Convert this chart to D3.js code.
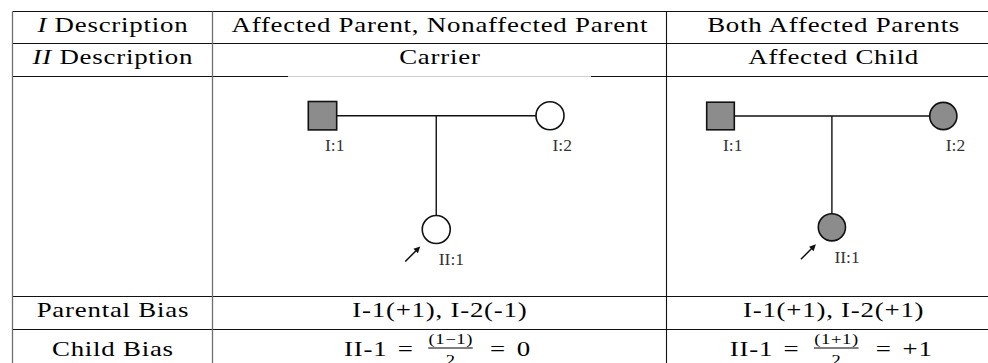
<!DOCTYPE html>
<html><head><meta charset="utf-8">
<script src="https://cdn.jsdelivr.net/npm/d3@7"></script>
<style>html,body{margin:0;padding:0;background:#fff;overflow:hidden}</style>
</head><body><svg id="c" width="988" height="363"></svg>
<script>
// ---------- data ----------
const rowHeaderNumerals = ["I", "II", "", "", ""];
const rowHeaderTexts = [" Description", " Description", "", "Parental Bias", "Child Bias"];
const iDescriptions = ["Affected Parent, Nonaffected Parent", "Both Affected Parents"];
const iiDescriptions = ["Carrier", "Affected Child"];
const parentalBias = ["I-1(+1), I-2(-1)", "I-1(+1), I-2(+1)"];
const childBiasLabels = ["II-1", "II-1"];
const childBiasNumerators = ["(1\u22121)", "(1+1)"];
const childBiasDenominators = ["2", "2"];
const childBiasResults = ["0", "+1"];
const fatherStatus = ["affected", "affected"];
const motherStatus = ["unaffected", "affected"];
const childStatus = ["unaffected", "affected"];
const nodeLabels = ["I:1", "I:2", "II:1"];

// ---------- layout ----------
const colEdges = [12.5, 212.5, 666.5, 1000];
const rowEdges = [11.5, 43.5, 76.5, 296.5, 329.5, 372];
const SX = 1.28;           // horizontal stretch of table text
const LS = 0.6;            // letter spacing (px, before stretch)
const FONT = "'Liberation Serif', 'Times New Roman', serif";
const FS = 21;
const svg = d3.select("#c");

const colCenter = i => (colEdges[i] + colEdges[i + 1]) / 2;
const rowBase = i => rowEdges[i] + 20.3;

// ---------- grid ----------
const grid = svg.append("g");
rowEdges.slice(0, 5).forEach(y => {
  grid.append("line").attr("x1", colEdges[0]).attr("x2", colEdges[3])
    .attr("y1", y).attr("y2", y).attr("stroke", "#111").attr("stroke-width", 1.1);
});
colEdges.forEach((x, i) => {
  grid.append("line").attr("x1", x).attr("x2", x)
    .attr("y1", rowEdges[0]).attr("y2", rowEdges[5])
    .attr("stroke", i < 2 ? "#6f6f6f" : "#111").attr("stroke-width", i < 2 ? 1.3 : 1.1);
});

// ---------- text helper ----------
function cellText(x, y, parts) {
  const t = svg.append("text")
    .attr("transform", `translate(${x + LS * SX / 2},${y}) scale(${SX},1)`)
    .attr("text-anchor", "middle").attr("letter-spacing", LS)
    .attr("font-family", FONT).attr("font-size", FS).attr("fill", "#000");
  parts.forEach(p => {
    if (!p.s) return;
    t.append("tspan").attr("font-style", p.it ? "italic" : "normal").text(p.s);
  });
  return t;
}

rowHeaderTexts.forEach((s, i) => {
  if (!s && !rowHeaderNumerals[i]) return;
  const y = i === 4 ? rowEdges[4] + 26 : rowBase(i);
  cellText(colCenter(0), y, [{s: rowHeaderNumerals[i], it: true}, {s: s}]);
});
iDescriptions.forEach((s, j) => cellText(colCenter(j + 1), rowBase(0), [{s}]));
iiDescriptions.forEach((s, j) => cellText(colCenter(j + 1), rowBase(1), [{s}]));
parentalBias.forEach((s, j) => cellText(colCenter(j + 1), rowBase(3), [{s}]));

// child bias math
const gaps = [8, 12, 13.5, 9];
childBiasLabels.forEach((lab, j) => {
  const outer = svg.append("g")
    .attr("transform", `translate(${colCenter(j + 1) - 2},${rowEdges[4] + 26}) scale(${SX},1)`);
  const inner = outer.append("g");
  const mk = (s, fs, ls) => inner.append("text").attr("font-family", FONT)
    .attr("font-size", fs).attr("letter-spacing", ls).attr("fill", "#000").text(s);
  let x = 0;
  const t1 = mk(lab, FS, LS).attr("x", x); x += t1.node().getComputedTextLength() + gaps[0];
  const e1 = mk("=", FS, 0).attr("x", x); x += e1.node().getComputedTextLength() + gaps[1];
  const num = mk(childBiasNumerators[j], 14.5, 0.5).attr("text-anchor", "middle").attr("y", -12);
  const den = mk(childBiasDenominators[j], 14.5, 0).attr("text-anchor", "middle").attr("y", 9);
  const fw = Math.max(num.node().getComputedTextLength(), den.node().getComputedTextLength());
  num.attr("x", x + fw / 2 + 0.25); den.attr("x", x + fw / 2);
  inner.append("line").attr("x1", x).attr("x2", x + fw).attr("y1", -7.5).attr("y2", -7.5)
    .attr("stroke", "#000").attr("stroke-width", 0.9);
  x += fw + gaps[2];
  const e2 = mk("=", FS, 0).attr("x", x); x += e2.node().getComputedTextLength() + gaps[3];
  const r = mk(childBiasResults[j], FS, LS).attr("x", x); x += r.node().getComputedTextLength();
  inner.attr("transform", `translate(${-x / 2},0)`);
});

// ---------- pedigrees ----------
const pedLayouts = [
  {xr: [322.5, 550], yr: [115.7, 229.5], half: 14.2, r: 14, box: [288, 76, 303, 214]},
  {xr: [720.5, 943.3], yr: [116, 227.3], half: 13.8, r: 13.6, box: null}
];
const fillOf = s => s === "affected" ? "#8c8c8c" : "#fff";

pedLayouts.forEach((L, j) => {
  const g = svg.append("g");
  if (L.box) {
    g.append("rect").attr("x", L.box[0]).attr("y", L.box[1]).attr("width", L.box[2])
      .attr("height", L.box[3]).attr("fill", "#fff").attr("opacity", 0.8);
  }
  const x = d3.scaleLinear().domain([0, 1]).range(L.xr);
  const y = d3.scaleLinear().domain([1, 2]).range(L.yr);
  const lw = 1.4;
  g.append("line").attr("x1", x(0) + L.half).attr("x2", x(1) - L.r)
    .attr("y1", y(1)).attr("y2", y(1)).attr("stroke", "#111").attr("stroke-width", lw);
  g.append("line").attr("x1", x(0.5)).attr("x2", x(0.5))
    .attr("y1", y(1)).attr("y2", y(2) - L.r).attr("stroke", "#111").attr("stroke-width", lw);
  g.append("rect").attr("x", x(0) - L.half).attr("y", y(1) - L.half)
    .attr("width", 2 * L.half).attr("height", 2 * L.half)
    .attr("fill", fillOf(fatherStatus[j])).attr("stroke", "#111").attr("stroke-width", 1.6);
  g.append("circle").attr("cx", x(1)).attr("cy", y(1)).attr("r", L.r)
    .attr("fill", fillOf(motherStatus[j])).attr("stroke", "#111").attr("stroke-width", 1.6);
  g.append("circle").attr("cx", x(0.5)).attr("cy", y(2)).attr("r", L.r)
    .attr("fill", fillOf(childStatus[j])).attr("stroke", "#111").attr("stroke-width", 1.6);
  const pos = [[x(0), y(1)], [x(1), y(1)], [x(0.5), y(2)]];
  nodeLabels.forEach((s, k) => {
    g.append("text").attr("x", pos[k][0] + 2.5).attr("y", pos[k][1] + 35.3)
      .attr("font-family", FONT).attr("font-size", 17.5).attr("fill", "#333").text(s);
  });
  const cx = x(0.5), cy = y(2);
  const ax1 = cx - 31, ay1 = cy + 32, ax2 = cx - 16, ay2 = cy + 17;
  g.append("line").attr("x1", ax1).attr("y1", ay1).attr("x2", ax2 - 3).attr("y2", ay2 + 3)
    .attr("stroke", "#111").attr("stroke-width", 1.5);
  const ang = Math.atan2(ay2 - ay1, ax2 - ax1);
  const hl = 6.5, hw = 3.2;
  const bx = ax2 - hl * Math.cos(ang), by = ay2 - hl * Math.sin(ang);
  const px = -Math.sin(ang) * hw, py = Math.cos(ang) * hw;
  g.append("path").attr("d", `M${ax2},${ay2}L${bx + px},${by + py}L${bx - px},${by - py}Z`)
    .attr("fill", "#111");
});
</script></body></html>
